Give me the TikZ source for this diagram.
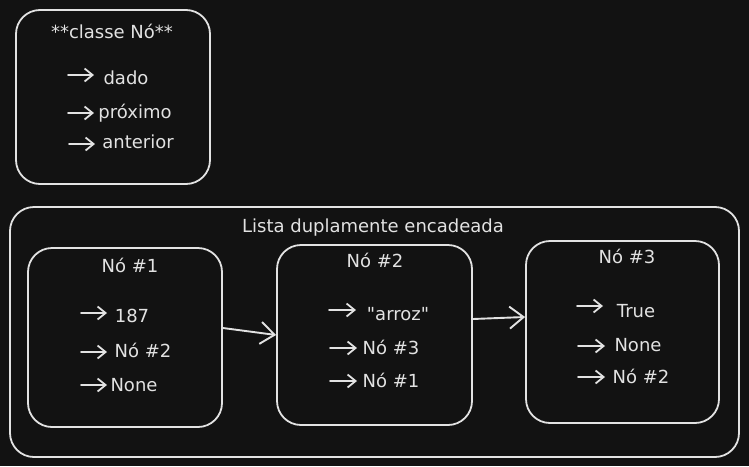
\documentclass[tikz,border=0pt]{standalone}
\usepackage{fontspec}
\setmainfont{DejaVu Sans}
\usetikzlibrary{arrows.meta}
\definecolor{bgc}{HTML}{121212}
\definecolor{ink}{HTML}{E2E2E2}
\tikzset{
  box/.style={draw=ink, line width=1.8pt, rounded corners=24pt, inner sep=0pt},
  lbl/.style={text=ink, anchor=base, inner sep=0pt, font=\fontsize{18}{21}\selectfont},
  tiny/.style={draw=ink, line width=1.8pt, line cap=round, -{Straight Barb[length=8pt,width=13pt]}},
  conn/.style={draw=ink, line width=1.9pt, line cap=round, -{Straight Barb[length=14pt,width=22pt]}}
}
\begin{document}
\begin{tikzpicture}[x=1pt,y=-1pt]
\fill[bgc] (0,0) rectangle (749,466);
\useasboundingbox (0,0) rectangle (749,466);

% class box
\node[box, minimum width=194pt, minimum height=174pt] (cls) at (113,97) {};
\node[lbl] (clsT) at (112,38) {**classe Nó**};
\coordinate (ca1) at (68,75);  \coordinate (cb1) at (94,75);
\coordinate (ca2) at (68,113); \coordinate (cb2) at (94,113);
\coordinate (ca3) at (69,144); \coordinate (cb3) at (95,144);
\draw[tiny] (ca1) -- (cb1);
\draw[tiny] (ca2) -- (cb2);
\draw[tiny] (ca3) -- (cb3);
\node[lbl] (c1) at (126,84) {dado};
\node[lbl] (c2) at (135,118) {próximo};
\node[lbl] (c3) at (138,148) {anterior};

% outer list box
\node[box, minimum width=729pt, minimum height=250pt] (lst) at (374.5,332) {};
\node[lbl] (lstT) at (373,232) {Lista duplamente encadeada};

% node 1
\node[box, minimum width=194pt, minimum height=179pt] (n1) at (125,337.5) {};
\node[lbl] (n1T) at (130,272) {Nó \#1};
\coordinate (a11) at (81,313); \coordinate (b11) at (107,313);
\coordinate (a12) at (81,352); \coordinate (b12) at (107,352);
\coordinate (a13) at (81,385); \coordinate (b13) at (107,385);
\draw[tiny] (a11) -- (b11);
\draw[tiny] (a12) -- (b12);
\draw[tiny] (a13) -- (b13);
\node[lbl] (n11) at (132,322) {187};
\node[lbl] (n12) at (143,357) {Nó \#2};
\node[lbl] (n13) at (134,391) {None};

% node 2
\node[box, minimum width=195pt, minimum height=180pt] (n2) at (374.5,335) {};
\node[lbl] (n2T) at (375,267) {Nó \#2};
\coordinate (a21) at (329,310); \coordinate (b21) at (356,310);
\coordinate (a22) at (330,348); \coordinate (b22) at (357,348);
\coordinate (a23) at (330,381); \coordinate (b23) at (357,381);
\draw[tiny] (a21) -- (b21);
\draw[tiny] (a22) -- (b22);
\draw[tiny] (a23) -- (b23);
\node[lbl] (n21) at (398,320) {\textquotedbl arroz\textquotedbl};
\node[lbl] (n22) at (391,354) {Nó \#3};
\node[lbl] (n23) at (391,387) {Nó \#1};

% node 3
\node[box, minimum width=193pt, minimum height=182pt] (n3) at (622.5,332) {};
\node[lbl] (n3T) at (627,263) {Nó \#3};
\coordinate (a31) at (577,306); \coordinate (b31) at (603,306);
\coordinate (a32) at (578,346); \coordinate (b32) at (605,346);
\coordinate (a33) at (578,377); \coordinate (b33) at (605,377);
\draw[tiny] (a31) -- (b31);
\draw[tiny] (a32) -- (b32);
\draw[tiny] (a33) -- (b33);
\node[lbl] (n31) at (636,317) {True};
\node[lbl] (n32) at (638,351) {None};
\node[lbl] (n33) at (641,383) {Nó \#2};

% connectors
\draw[conn] ([yshift=9.5pt]n1.east) -- ([yshift=0pt]n2.west);
\draw[conn] ([yshift=16pt]n2.east) -- ([yshift=15pt]n3.west);
\end{tikzpicture}
\end{document}
